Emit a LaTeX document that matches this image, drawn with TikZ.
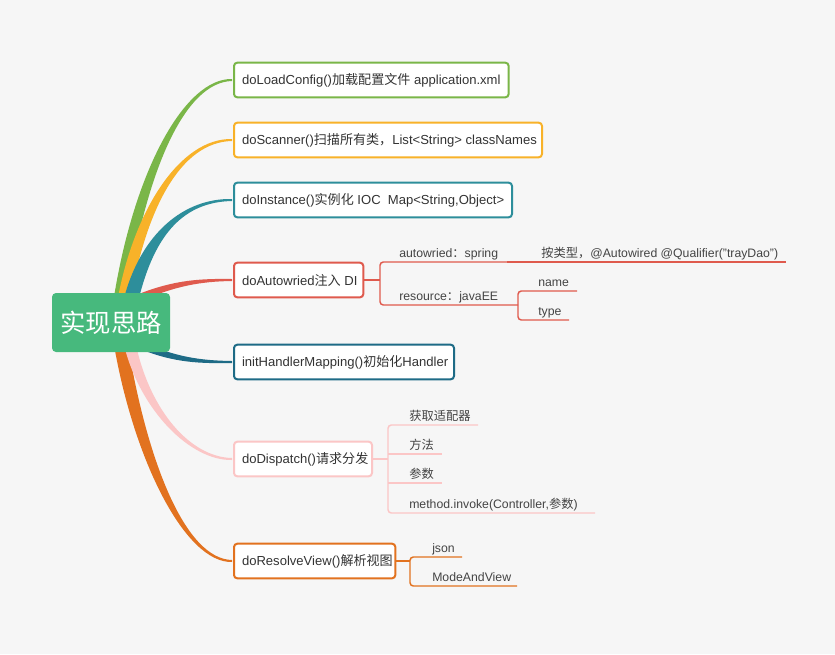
\documentclass[tikz,border=0pt]{standalone}
\usepackage{fontspec}
\setmainfont{Liberation Sans}
\newfontfamily\cjk{Noto Sans CJK SC}
\newcommand\zh[1]{{\cjk #1}}
\newcommand\bx[2]{\makebox[#1][l]{#2}}
\definecolor{bg}{HTML}{F6F6F6}
\definecolor{txt}{HTML}{333333}
\definecolor{subtxt}{HTML}{444444}
\definecolor{rootc}{HTML}{47B97D}
\definecolor{cgreen}{HTML}{7AB648}
\definecolor{cyellow}{HTML}{F8B229}
\definecolor{cteal}{HTML}{2D8E9B}
\definecolor{cred}{HTML}{DF5A4D}
\definecolor{cdteal}{HTML}{1E6B86}
\definecolor{cpink}{HTML}{FBC6C6}
\definecolor{corange}{HTML}{E2721F}
\tikzset{
  mainbox/.style={draw=#1, line width=1.5pt, fill=white, rounded corners=2.5pt,
    anchor=west, minimum height=26pt, inner xsep=6pt, inner ysep=0pt,
    text=txt, font=\fontsize{9.8}{11}\selectfont},
  subline/.style={draw=#1, line width=1.1pt, rounded corners=2.5pt},
  subtext/.style={anchor=base west, inner sep=0pt, text=subtxt, font=\fontsize{9.2}{11}\selectfont}
}
\begin{document}
\begin{tikzpicture}[x=0.75pt,y=-0.75pt]
\fill[bg] (0,0) rectangle (835,654);
\useasboundingbox (0,0) rectangle (835,654);

% tapered branches
\fill[cgreen] (113.5,300) .. controls (134,170) and (185,78) .. (232,79) -- (232,81) .. controls (185,82) and (146,170) .. (126.5,300) -- cycle;
\fill[cyellow] (117.5,300) .. controls (134,210) and (180,138) .. (232,139) -- (232,141) .. controls (180,142) and (146,210) .. (130.5,300) -- cycle;
\fill[cteal] (123.5,300) .. controls (141,232) and (185,198) .. (232,199) -- (232,201) .. controls (185,202) and (155,232) .. (138.5,300) -- cycle;
\fill[cred] (140,293.5) .. controls (175,280) and (200,278.5) .. (232,279) -- (232,281) .. controls (200,281.5) and (175,286) .. (140,301.5) -- cycle;
\fill[cdteal] (140,341) .. controls (175,357) and (200,360.5) .. (232,361) -- (232,363) .. controls (200,363.5) and (175,363) .. (140,349) -- cycle;
\fill[corange] (114,345) .. controls (134,460) and (185,563) .. (232,562) -- (232,560) .. controls (185,559) and (147,460) .. (128,345) -- cycle;
\fill[cpink] (124,345) .. controls (140,410) and (190,460.8) .. (232,460) -- (232,458) .. controls (190,457.2) and (150,410) .. (136,345) -- cycle;

% root
\node[fill=rootc, rounded corners=3pt, minimum width=88.5pt, minimum height=44.25pt, inner sep=0pt,
  text=white, font=\cjk\fontsize{19}{20}\selectfont] (root) at (111,322.5) {实现思路};

% main boxes
\node[mainbox=cgreen] (b1) at (233,80) {\bx{194pt}{doLoadConfig()\zh{加载配置文件} application.xml}};
\node[mainbox=cyellow] (b2) at (233,140) {\bx{219pt}{doScanner()\zh{扫描所有类，}List<String> classNames}};
\node[mainbox=cteal] (b3) at (233,200) {\bx{196.5pt}{doInstance()\zh{实例化} IOC\ \ Map<String,Object>}};
\node[mainbox=cred] (b4) at (233,280) {\bx{85pt}{doAutowried\zh{注入} DI}};
\node[mainbox=cdteal] (b5) at (233,362) {\bx{153pt}{initHandlerMapping()\zh{初始化}Handler}};
\node[mainbox=cpink] (b6) at (233,459) {\bx{91.5pt}{doDispatch()\zh{请求分发}}};
\node[mainbox=corange] (b7) at (233,561) {\bx{109pt}{doResolveView()\zh{解析视图}}};

% doAutowried children
\coordinate (a0) at (380,280);
\coordinate (aw1) at (507,262);
\coordinate (aw2) at (786,262);
\coordinate (ar1) at (518,305);
\coordinate (an) at (577,291);
\coordinate (at) at (569,320);
\draw[subline=cred] (b4.east) -- (a0);
\draw[subline=cred] (aw1) -- (380,262) -- (380,305) -- (ar1);
\draw[subline=cred] (aw1) -- (aw2);
\draw[subline=cred] (an) -- (518,291) -- (518,320) -- (at);
\node[subtext] (t1) at (399,257) {autowried\zh{：}spring};
\node[subtext] (t2) at (541,257) {\zh{按类型，}@Autowired @Qualifier("trayDao")};
\node[subtext] (t3) at (399,300) {resource\zh{：}javaEE};
\node[subtext] (t4) at (538,286) {name};
\node[subtext] (t5) at (538,315) {type};

% doDispatch children
\coordinate (d0) at (388,459);
\coordinate (d1) at (478,425);
\coordinate (d2) at (442,454);
\coordinate (d3) at (442,483);
\coordinate (d4) at (595,513);
\draw[subline=cpink] (b6.east) -- (d0);
\draw[subline=cpink] (d1) -- (388,425) -- (388,513) -- (d4);
\draw[subline=cpink] (388,454) -- (d2);
\draw[subline=cpink] (388,483) -- (d3);
\node[subtext] (t6) at (409,420) {\zh{获取适配器}};
\node[subtext] (t7) at (409,449) {\zh{方法}};
\node[subtext] (t8) at (409,478) {\zh{参数}};
\node[subtext] (t9) at (409,508) {method.invoke(Controller,\zh{参数})};

% doResolveView children
\coordinate (r0) at (410,561);
\coordinate (r1) at (462,557);
\coordinate (r2) at (517,586);
\draw[subline=corange] (b7.east) -- (r0);
\draw[subline=corange] (r1) -- (410,557) -- (410,586) -- (r2);
\node[subtext] (t10) at (432,552) {json};
\node[subtext] (t11) at (432,581) {ModeAndView};
\end{tikzpicture}
\end{document}
